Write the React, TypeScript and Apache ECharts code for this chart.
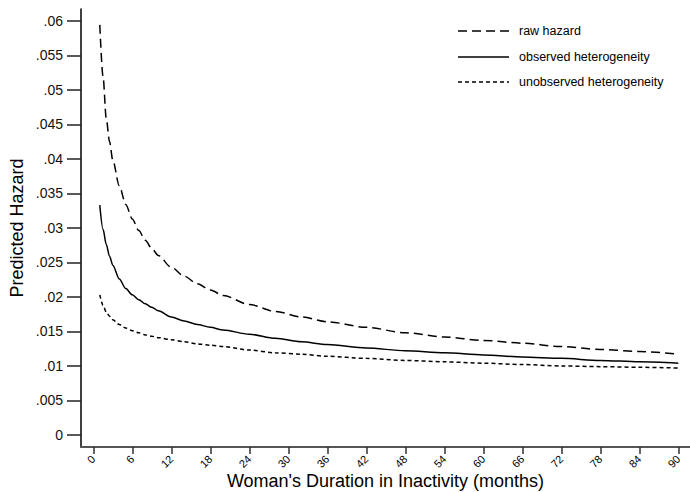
import React, { useEffect, useRef } from "react";
import * as echarts from "echarts";

const months = [1, 1.5, 2, 2.5, 3, 4, 5, 6, 7, 8, 9, 10, 12, 14, 16, 18, 20, 24, 28, 32, 36, 42, 48, 54, 60, 66, 72, 78, 84, 90];
const rawHazard = [0.0594, 0.0519, 0.0458, 0.0425, 0.0398, 0.0361, 0.0334, 0.0313, 0.0296, 0.0282, 0.027, 0.026, 0.0243, 0.023, 0.0219, 0.021, 0.0202, 0.0189, 0.0179, 0.0171, 0.0164, 0.0156, 0.0148, 0.0142, 0.0137, 0.0133, 0.0128, 0.0124, 0.0121, 0.0117];
const observedHet = [0.0333, 0.0298, 0.0276, 0.0259, 0.0246, 0.0226, 0.0212, 0.0203, 0.0196, 0.019, 0.0185, 0.018, 0.0171, 0.0165, 0.016, 0.0156, 0.0152, 0.0146, 0.014, 0.0135, 0.0131, 0.0126, 0.0122, 0.0119, 0.0116, 0.0113, 0.0111, 0.0108, 0.0106, 0.0104];
const unobservedHet = [0.0203, 0.0188, 0.0178, 0.0172, 0.0167, 0.016, 0.0155, 0.0151, 0.0148, 0.0145, 0.0143, 0.0141, 0.0138, 0.0135, 0.0132, 0.013, 0.0128, 0.0123, 0.0119, 0.0117, 0.0114, 0.0111, 0.0108, 0.0106, 0.0104, 0.0102, 0.01, 0.0099, 0.0098, 0.0097];
const xTicks = [0, 6, 12, 18, 24, 30, 36, 42, 48, 54, 60, 66, 72, 78, 84, 90];
const yTicks = [0, 0.005, 0.01, 0.015, 0.02, 0.025, 0.03, 0.035, 0.04, 0.045, 0.05, 0.055, 0.06];
const seriesNames = ["raw hazard", "observed heterogeneity", "unobserved heterogeneity"];

const FONT = "'Liberation Sans', Arial, sans-serif";

export default function App() {
  const ref = useRef<HTMLDivElement>(null);
  useEffect(() => {
    if (!ref.current) return;
    const chart = echarts.init(ref.current, null, { renderer: "svg" });
    const mk = (vals: number[]) => months.map((m, i) => [m, vals[i]]);
    const dashes: (number[] | null)[] = [[9, 5], null, [4, 3]];
    const legendY = [31, 57, 82];
    const graphic: any[] = [];
    seriesNames.forEach((n, i) => {
      graphic.push({
        type: "line",
        shape: { x1: 458, y1: legendY[i], x2: 509, y2: legendY[i] },
        style: { stroke: "#000", lineWidth: 1.3, lineDash: dashes[i] || undefined },
        silent: true,
      });
      graphic.push({
        type: "text",
        x: 519,
        y: legendY[i],
        style: { text: n, font: `12.5px ${FONT}`, fill: "#000", verticalAlign: "middle", textAlign: "left" },
        silent: true,
      });
    });
    chart.setOption({
      animation: false,
      backgroundColor: "#fff",
      grid: { left: 81, top: 9, right: 0, bottom: 45, outerBoundsMode: "none", containLabel: false },
      graphic,
      xAxis: {
        type: "value",
        min: -1.89,
        max: 91.8,
        name: "Woman's Duration in Inactivity (months)",
        nameLocation: "middle",
        nameGap: 25,
        nameMoveOverlap: false,
        nameTextStyle: { fontFamily: FONT, fontSize: 18, color: "#000" },
        axisLine: { show: true, onZero: false, lineStyle: { color: "#555", width: 2 } },
        axisTick: { show: true, length: 7, customValues: xTicks, lineStyle: { color: "#333", width: 1.5 } },
        axisLabel: {
          customValues: xTicks,
          rotate: 45,
          margin: 10,
          fontFamily: FONT,
          fontSize: 11,
          color: "#000",
        },
        splitLine: { show: false },
      },
      yAxis: {
        type: "value",
        min: -0.00174,
        max: 0.0617,
        name: "Predicted Hazard",
        nameLocation: "middle",
        nameGap: 55,
        nameMoveOverlap: false,
        nameTextStyle: { fontFamily: FONT, fontSize: 18, color: "#000" },
        axisLine: { show: true, onZero: false, lineStyle: { color: "#000", width: 1.5 } },
        axisTick: { show: true, length: 14, customValues: yTicks, lineStyle: { color: "#222", width: 1.5 } },
        axisLabel: {
          customValues: yTicks,
          margin: 18,
          fontFamily: FONT,
          fontSize: 14,
          color: "#111",
          formatter: (v: number) => (v === 0 ? "0" : String(Number(v.toFixed(4))).replace(/^0\./, ".")),
        },
        splitLine: { show: false },
      },
      series: [
        { name: seriesNames[0], type: "line", data: mk(rawHazard), showSymbol: false, smooth: 0.3, smoothMonotone: "x", lineStyle: { color: "#000", width: 1.5, type: [9, 5] } },
        { name: seriesNames[1], type: "line", data: mk(observedHet), showSymbol: false, smooth: 0.3, smoothMonotone: "x", lineStyle: { color: "#000", width: 1.5, type: "solid" } },
        { name: seriesNames[2], type: "line", data: mk(unobservedHet), showSymbol: false, smooth: 0.3, smoothMonotone: "x", lineStyle: { color: "#000", width: 1.5, type: [4, 3] } },
      ],
    });
    return () => chart.dispose();
  }, []);
  return <div ref={ref} style={{ width: 690, height: 492, position: "absolute", left: 0, top: 0 }} />;
}
